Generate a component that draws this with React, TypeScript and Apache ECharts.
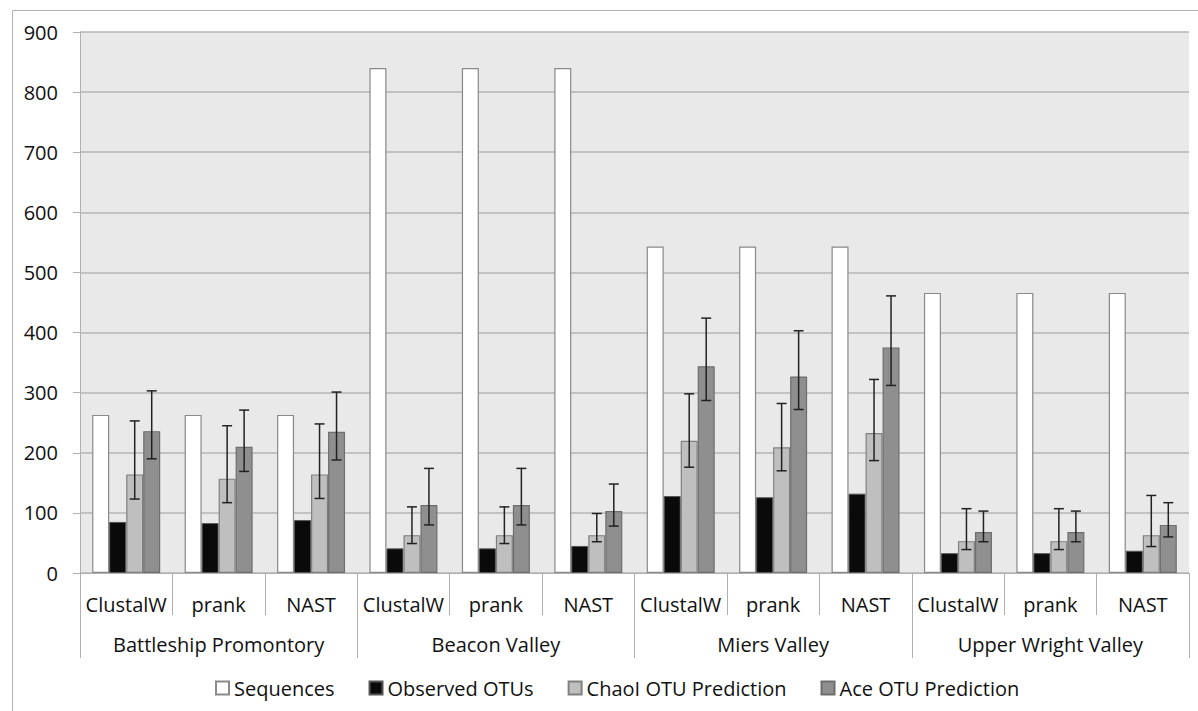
import React, { useEffect, useRef } from "react";
import * as echarts from "echarts";

const subCategories = [
  "ClustalW", "prank", "NAST",
  "ClustalW", "prank", "NAST",
  "ClustalW", "prank", "NAST",
  "ClustalW", "prank", "NAST",
];
const groups = ["Battleship Promontory", "Beacon Valley", "Miers Valley", "Upper Wright Valley"];

const sequences = [263, 263, 263, 840, 840, 840, 543, 543, 543, 466, 466, 466];
const observed = [85, 83, 88, 41, 41, 45, 128, 126, 132, 33, 33, 37];
const chao = [164, 157, 164, 63, 63, 63, 220, 209, 233, 53, 53, 63];
const chaoLow = [123, 117, 124, 49, 49, 52, 176, 170, 187, 39, 39, 44];
const chaoHigh = [253, 245, 248, 110, 110, 99, 298, 282, 322, 107, 107, 129];
const ace = [236, 210, 235, 113, 113, 103, 344, 327, 375, 68, 68, 80];
const aceLow = [190, 169, 188, 80, 80, 78, 287, 272, 312, 52, 52, 60];
const aceHigh = [303, 271, 301, 174, 174, 148, 424, 403, 461, 103, 103, 117];

const yTicks = { min: 0, max: 900, interval: 100 };

const FONT = "Open Sans";
const FS = 20;
const BAR_W = 17;

function errorSeries(low: number[], high: number[], offset: number) {
  return {
    type: "custom",
    xAxisIndex: 0,
    yAxisIndex: 0,
    silent: true,
    z: 10,
    encode: { x: 0, y: [1, 2] },
    data: low.map((l, i) => [i, l, high[i]]),
    renderItem: (params: any, api: any) => {
      const idx = api.value(0);
      const lo = api.coord([idx, api.value(1)]);
      const hi = api.coord([idx, api.value(2)]);
      const x = lo[0] + offset;
      const cap = 5;
      const style = { stroke: "#222", lineWidth: 1.5 };
      return {
        type: "group",
        children: [
          { type: "line", shape: { x1: x, y1: lo[1], x2: x, y2: hi[1] }, style },
          { type: "line", shape: { x1: x - cap, y1: lo[1], x2: x + cap, y2: lo[1] }, style },
          { type: "line", shape: { x1: x - cap, y1: hi[1], x2: x + cap, y2: hi[1] }, style },
        ],
      };
    },
  };
}

export default function App() {
  const ref = useRef<HTMLDivElement>(null);
  useEffect(() => {
    document.body.style.margin = "0";
    const chart = echarts.init(ref.current!, null, { renderer: "svg" });
    const barBase = {
      type: "bar",
      barWidth: BAR_W,
      barGap: "0%",
      xAxisIndex: 0,
      yAxisIndex: 0,
    };
    chart.setOption({
      animation: false,
      textStyle: { fontFamily: FONT },
      graphic: [
        {
          type: "rect",
          shape: { x: 12.5, y: 10.5, width: 1300, height: 800 },
          style: { fill: "none", stroke: "#b3b3b3", lineWidth: 1 },
          silent: true,
          z: -10,
        },
      ],
      grid: {
        left: 80,
        right: 9,
        top: 32,
        bottom: 138,
        show: true,
        backgroundColor: "#e9e9e9",
        borderWidth: 0,
      },
      legend: {
        left: 210,
        top: 673,
        itemWidth: 13,
        itemHeight: 13,
        itemGap: 34,
        icon: "rect",
        textStyle: { fontFamily: FONT, fontSize: FS, color: "#111" },
        data: ["Sequences", "Observed OTUs", "ChaoI OTU Prediction", "Ace OTU Prediction"],
      },
      xAxis: [
        {
          type: "category",
          data: subCategories,
          position: "bottom",
          axisLine: { show: true, lineStyle: { color: "#b0b0b0", width: 1 } },
          axisTick: { show: true, length: 42, interval: 0, lineStyle: { color: "#b0b0b0" } },
          axisLabel: { interval: 0, margin: 21, fontSize: FS, color: "#111", fontFamily: FONT },
        },
        {
          type: "category",
          data: groups,
          position: "bottom",
          axisLine: { show: false },
          axisTick: { show: true, length: 85, interval: 0, lineStyle: { color: "#b0b0b0" } },
          axisLabel: { interval: 0, margin: 61, fontSize: FS, color: "#111", fontFamily: FONT },
        },
      ],
      yAxis: {
        type: "value",
        min: yTicks.min,
        max: yTicks.max,
        interval: yTicks.interval,
        axisLine: { show: true, lineStyle: { color: "#b0b0b0" } },
        axisTick: { show: true, length: 7, lineStyle: { color: "#b0b0b0" } },
        axisLabel: { margin: 22, fontSize: FS, color: "#111", fontFamily: FONT },
        splitLine: { show: true, lineStyle: { color: "#b4b4b4", width: 1.5 } },
      },
      series: [
        {
          ...barBase,
          name: "Sequences",
          data: sequences,
          itemStyle: { color: "#ffffff", borderColor: "#8a8a8a", borderWidth: 1.2 },
        },
        {
          ...barBase,
          name: "Observed OTUs",
          data: observed,
          itemStyle: { color: "#0a0a0a", borderColor: "#555", borderWidth: 1 },
        },
        {
          ...barBase,
          name: "ChaoI OTU Prediction",
          data: chao,
          itemStyle: { color: "#bfbfbf", borderColor: "#808080", borderWidth: 1.2 },
        },
        {
          ...barBase,
          name: "Ace OTU Prediction",
          data: ace,
          itemStyle: { color: "#8f8f8f", borderColor: "#6e6e6e", borderWidth: 1.2 },
        },
        errorSeries(chaoLow, chaoHigh, BAR_W / 2),
        errorSeries(aceLow, aceHigh, BAR_W * 1.5),
      ],
    });
    return () => chart.dispose();
  }, []);
  return <div ref={ref} style={{ width: 1198, height: 711 }} />;
}
